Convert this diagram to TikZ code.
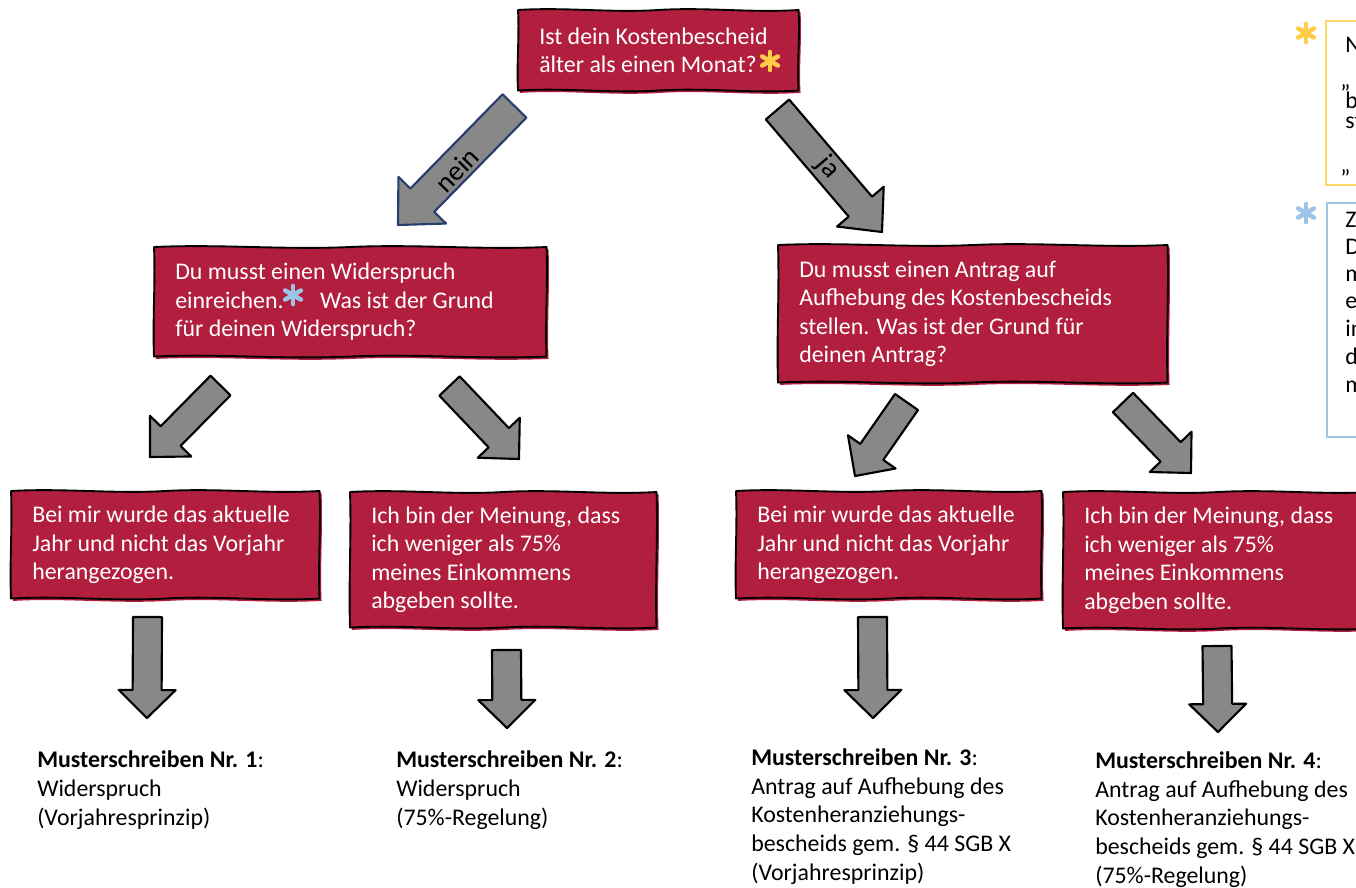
\documentclass[tikz,border=0pt]{standalone}
\usepackage{fontspec}
\setmainfont{Carlito}
\usetikzlibrary{calc}
\definecolor{boxred}{RGB}{178,30,62}
\definecolor{arrowgray}{RGB}{136,136,136}
\definecolor{neinblue}{RGB}{40,62,110}
\definecolor{staryellow}{RGB}{255,204,70}
\definecolor{noteyellow}{RGB}{255,217,102}
\definecolor{noteblue}{RGB}{157,195,230}
% fat arrow: #1 style, #2 start coordinate, #3 tip coordinate, #4 shaft width, #5 head width, #6 head length
\newcommand\fatarrow[6]{%
  \coordinate (#2-h) at ($(#3)!#6!(#2)$);
  \draw[#1] ($(#2)!#4/2!90:(#3)$) -- ($(#2-h)!#4/2!90:(#3)$) -- ($(#2-h)!#5/2!90:(#3)$) -- (#3)
    -- ($(#2-h)!#5/2!-90:(#3)$) -- ($(#2-h)!#4/2!-90:(#3)$) -- ($(#2)!#4/2!-90:(#3)$) -- cycle;}
% six-spoke asterisk: #1 x, #2 y, #3 colour
\newcommand\asterx[3]{%
  \foreach \a in {90,30,150}{%
    \draw[#3, line width=3.4pt, line cap=round] ($(#1,#2)+(\a:6.8pt)$) -- ($(#1,#2)+(\a+180:6.8pt)$);}}
% hand-drawn red box round the frame node #1
\newcommand\wavybox[1]{%
  \path[wavy] (#1.north west)
    .. controls ($(#1.north west)!0.17!(#1.north east)+(0,-3)$) and ($(#1.north west)!0.33!(#1.north east)+(0,3)$) .. ($(#1.north west)!0.5!(#1.north east)$)
    .. controls ($(#1.north west)!0.67!(#1.north east)+(0,-3)$) and ($(#1.north west)!0.83!(#1.north east)+(0,3)$) .. (#1.north east)
    .. controls ($(#1.north east)!0.33!(#1.south east)+(1.5,0)$) and ($(#1.north east)!0.67!(#1.south east)+(-1.5,0)$) .. (#1.south east)
    .. controls ($(#1.south east)!0.17!(#1.south west)+(0,3)$) and ($(#1.south east)!0.33!(#1.south west)+(0,-3)$) .. ($(#1.south east)!0.5!(#1.south west)$)
    .. controls ($(#1.south east)!0.67!(#1.south west)+(0,3)$) and ($(#1.south east)!0.83!(#1.south west)+(0,-3)$) .. (#1.south west)
    .. controls ($(#1.south west)!0.33!(#1.north west)+(-1.5,0)$) and ($(#1.south west)!0.67!(#1.north west)+(1.5,0)$) .. (#1.north west) -- cycle;}
% box: #1 name, #2 x, #3 y, #4 width, #5 height, #6 text
\newcommand\qbox[6]{%
  \node[frame, minimum width=#4, minimum height=#5] (#1) at (#2,#3) {};
  \wavybox{#1}
  \node[boxtext] (#1t) at ($(#1.west)+(21,0)$) {#6};}
\begin{document}
\begin{tikzpicture}[x=0.75pt,y=-0.75pt,
  every node/.style={font=\fontsize{17.9pt}{21.4pt}\selectfont},
  frame/.style={anchor=north west, inner sep=0pt, draw=none},
  wavy/.style={draw=black, fill=boxred, line width=1.4pt, line join=round,
    preaction={fill=boxred, transform canvas={shift={(1.5pt,-1.8pt)}}}},
  boxtext/.style={anchor=west, align=left, inner sep=0pt, text=white},
  fat/.style={draw=black, fill=arrowgray, line width=1.6pt, line join=round},
  fatblue/.style={fat, draw=neinblue},
  arrowlabel/.style={inner sep=0pt, font=\fontsize{21pt}{24pt}\selectfont},
  result/.style={anchor=base west, align=left, inner sep=0pt, text=black},
  note/.style={anchor=base west, inner sep=0pt, text=black},
  notebox/.style={line width=1.9pt}]
\clip (0,0) rectangle (1356,888);

% question boxes
\qbox{q1}{518}{10}{210pt}{60pt}{Ist dein Kostenbescheid\\älter als einen Monat?}
\qbox{q2l}{154}{247}{294pt}{81.75pt}{Du musst einen Widerspruch\\einreichen.\hspace{22pt} Was ist der Grund\\für deinen Widerspruch?}
\qbox{q2r}{778}{245}{291.75pt}{102.75pt}{Du musst einen Antrag auf\\Aufhebung des Kostenbescheids\\stellen. Was ist der Grund für\\deinen Antrag?}

% reason boxes
\qbox{b1}{11}{491}{231pt}{80.25pt}{Bei mir wurde das aktuelle\\Jahr und nicht das Vorjahr\\herangezogen.}
\qbox{b2}{350}{492}{229.5pt}{101.25pt}{Ich bin der Meinung, dass\\ich weniger als 75\%\\meines Einkommens\\abgeben sollte.}
\qbox{b3}{736}{491}{228.75pt}{80.25pt}{Bei mir wurde das aktuelle\\Jahr und nicht das Vorjahr\\herangezogen.}
\qbox{b4}{1063}{492}{232.5pt}{102pt}{Ich bin der Meinung, dass\\ich weniger als 75\%\\meines Einkommens\\abgeben sollte.}

% stars in the boxes
\asterx{770}{61}{staryellow}
\asterx{293}{295}{noteblue}

% arrow end points
\coordinate (nein-s) at (514.5,106); \coordinate (nein-t) at (398,225);
\coordinate (ja-s) at (777.5,109.5); \coordinate (ja-t) at (882,232);
\coordinate (a-s) at (220.5,385.5);  \coordinate (a-t) at (150,457);
\coordinate (b-s) at (449.5,386);    \coordinate (b-t) at (519,459);
\coordinate (c-s) at (906.5,402);    \coordinate (c-t) at (855,476);
\coordinate (d-s) at (1123,402.5);   \coordinate (d-t) at (1191,473);
\coordinate (v1-s) at (147.5,617);   \coordinate (v1-t) at (147,718);
\coordinate (v2-s) at (506.5,650);   \coordinate (v2-t) at (507,728);
\coordinate (v3-s) at (872.5,617);   \coordinate (v3-t) at (873,718);
\coordinate (v4-s) at (1217,646);    \coordinate (v4-t) at (1218,732);

\fatarrow{fatblue}{nein-s}{nein-t}{25pt}{50pt}{26pt}
\fatarrow{fat}{ja-s}{ja-t}{23pt}{46pt}{25pt}
\fatarrow{fat}{a-s}{a-t}{21pt}{43.5pt}{22pt}
\fatarrow{fat}{b-s}{b-t}{21pt}{43.5pt}{22pt}
\fatarrow{fat}{c-s}{c-t}{21pt}{43.5pt}{22pt}
\fatarrow{fat}{d-s}{d-t}{21pt}{43.5pt}{22pt}
\fatarrow{fat}{v1-s}{v1-t}{21.75pt}{42.75pt}{21pt}
\fatarrow{fat}{v2-s}{v2-t}{21.75pt}{42.75pt}{21pt}
\fatarrow{fat}{v3-s}{v3-t}{21.75pt}{42.75pt}{21pt}
\fatarrow{fat}{v4-s}{v4-t}{21.75pt}{42.75pt}{21pt}

\node[arrowlabel, rotate=45.6] (neinlbl) at (457,170) {nein};
\node[arrowlabel, rotate=-49.5] (jalbl) at (828,167) {ja};

% results (anchored at the baseline of the last line)
\node[result] (r1) at (37,825) {\textbf{Musterschreiben Nr. 1}:\\Widerspruch\\(Vorjahresprinzip)};
\node[result] (r2) at (396,825) {\textbf{Musterschreiben Nr. 2}:\\Widerspruch\\(75\%-Regelung)};
\node[result] (r3) at (751,880) {\textbf{Musterschreiben Nr. 3}:\\Antrag auf Aufhebung des\\Kostenheranziehungs-\\bescheids gem. § 44 SGB X\\(Vorjahresprinzip)};
\node[result] (r4) at (1095,883) {\textbf{Musterschreiben Nr. 4}:\\Antrag auf Aufhebung des\\Kostenheranziehungs-\\bescheids gem. § 44 SGB X\\(75\%-Regelung)};

% notes at the right edge
\asterx{1306}{33}{staryellow}
\draw[notebox, noteyellow] (1420,21) -- (1326,21) -- (1326,185) -- (1420,185);
\node[note] (n1) at (1345,53) {N};
\node[note] (n2) at (1340,88) {„};
\node[note] (n3) at (1345,109) {b};
\node[note] (n4) at (1345,129) {st};
\node[note] (n5) at (1340,172) {„};

\asterx{1306}{213}{noteblue}
\draw[notebox, noteblue] (1420,203) -- (1327,203) -- (1327,437) -- (1420,437);
\node[note] (m1) at (1345,227) {Z};
\node[note] (m2) at (1345,254) {D};
\node[note] (m3) at (1345,281) {m};
\node[note] (m4) at (1345,308) {e};
\node[note] (m5) at (1345,336) {in};
\node[note] (m6) at (1345,364) {d};
\node[note] (m7) at (1345,392) {m};
\end{tikzpicture}
\end{document}
